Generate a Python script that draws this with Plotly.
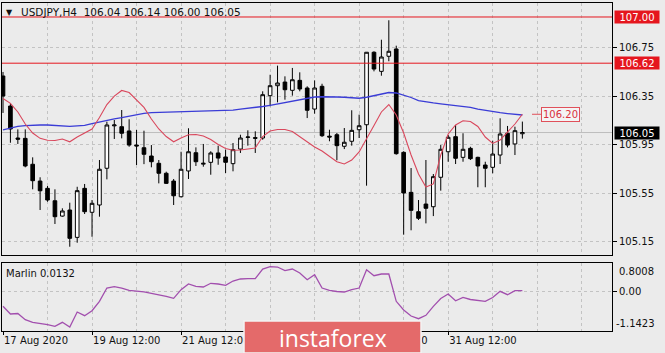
import plotly.graph_objects as go

# ---------------- data ----------------
symbol = "USDJPY,H4"
bars = list(range(71))  # H4 bar index, bar 0 = 17 Aug 2020 12:00

open_ = [106.515, 106.268, 106.005, 106.002, 105.789, 105.651, 105.591, 105.489, 105.363, 105.413,
         105.188, 105.591, 105.394, 105.454, 105.756, 106.105, 106.098, 106.063, 105.947, 105.925,
         105.857, 105.797, 105.715, 105.651, 105.522, 105.734, 105.884, 105.790, 105.805, 105.882,
         105.849, 105.794, 105.914, 106.010, 106.008, 106.005, 106.353, 106.435, 106.465, 106.397,
         106.479, 106.416, 106.243, 106.430, 106.020, 106.032, 105.937, 105.978, 106.073, 106.114,
         106.710, 106.553, 106.677, 106.737, 105.887, 105.558, 105.399, 105.462, 105.440, 105.682,
         105.892, 106.016, 105.846, 105.920, 105.846, 105.783, 105.764, 105.865, 106.044, 105.956,
         106.04]
high = [106.548, 106.290, 106.076, 106.076, 105.846, 105.682, 105.610, 105.583, 105.427, 105.473,
        105.604, 105.627, 105.495, 105.824, 106.139, 106.153, 106.235, 106.159, 106.071, 106.065,
        105.947, 105.824, 105.728, 105.668, 105.892, 106.085, 105.928, 105.956, 105.896, 105.942,
        105.909, 105.964, 106.032, 106.068, 106.060, 106.389, 106.525, 106.600, 106.512, 106.581,
        106.545, 106.430, 106.479, 106.451, 106.073, 106.046, 106.087, 106.233, 106.197, 106.712,
        106.718, 106.813, 106.973, 106.764, 105.896, 105.758, 105.495, 105.824, 105.709, 105.947,
        106.030, 106.112, 106.044, 105.933, 105.851, 105.810, 105.983, 106.167, 106.104, 106.098,
        106.14]
low = [106.211, 105.966, 105.956, 105.764, 105.583, 105.413, 105.481, 105.298, 105.358, 105.111,
       105.144, 105.380, 105.193, 105.358, 105.665, 105.997, 106.002, 105.933, 105.783, 105.790,
       105.764, 105.632, 105.627, 105.454, 105.517, 105.668, 105.775, 105.769, 105.703, 105.785,
       105.717, 105.731, 105.882, 105.942, 105.882, 105.991, 106.266, 106.298, 106.320, 106.353,
       106.389, 106.169, 106.205, 106.013, 105.978, 105.822, 105.914, 105.942, 106.005, 105.613,
       106.553, 106.517, 106.636, 105.868, 105.210, 105.246, 105.331, 105.303, 105.363, 105.572,
       105.810, 105.791, 105.810, 105.824, 105.600, 105.600, 105.715, 105.791, 105.928, 105.865,
       106.00]
close = [106.350, 106.079, 105.995, 105.775, 105.654, 105.571, 105.495, 105.358, 105.405, 105.180,
         105.572, 105.399, 105.468, 105.748, 106.112, 106.112, 106.044, 105.947, 105.940, 105.871,
         105.810, 105.715, 105.632, 105.530, 105.748, 105.892, 105.810, 105.797, 105.882, 105.840,
         105.805, 105.909, 106.005, 106.013, 106.003, 106.361, 106.435, 106.457, 106.402, 106.484,
         106.408, 106.233, 106.416, 106.024, 106.013, 105.942, 105.970, 106.068, 106.106, 106.710,
         106.572, 106.671, 106.718, 105.876, 105.553, 105.410, 105.345, 105.427, 105.687, 105.912,
         106.011, 105.838, 105.912, 105.835, 105.775, 105.756, 105.873, 106.038, 105.947, 106.065,
         106.05]

ma_fast = [106.330, 106.290, 106.219, 106.120, 106.046, 106.002, 105.986, 105.984, 105.997, 105.974,
           106.013, 106.046, 106.079, 106.173, 106.280, 106.350, 106.396, 106.379, 106.317, 106.256,
           106.161, 106.079, 106.017, 105.974, 106.005, 106.032, 106.034, 106.021, 105.993, 105.951,
           105.919, 105.904, 105.906, 105.914, 105.923, 106.017, 106.062, 106.075, 106.075, 106.058,
           106.017, 105.976, 105.931, 105.898, 105.857, 105.810, 105.791, 105.824, 105.890, 106.005,
           106.108, 106.219, 106.280, 106.194, 106.046, 105.865, 105.709, 105.602, 105.627, 105.865,
           106.038, 106.112, 106.147, 106.141, 106.100, 106.013, 105.960, 105.988, 106.054, 106.120,
           106.20]
ma_slow = [106.071, 106.087, 106.100, 106.106, 106.112, 106.112, 106.112, 106.108, 106.100, 106.100,
           106.104, 106.108, 106.124, 106.139, 106.153, 106.163, 106.173, 106.186, 106.198, 106.208,
           106.213, 106.215, 106.216, 106.219, 106.221, 106.224, 106.226, 106.227, 106.229, 106.230,
           106.232, 106.235, 106.243, 106.248, 106.253, 106.264, 106.274, 106.286, 106.299, 106.309,
           106.317, 106.334, 106.342, 106.344, 106.345, 106.342, 106.340, 106.339, 106.332, 106.340,
           106.352, 106.367, 106.379, 106.375, 106.359, 106.338, 106.313, 106.301, 106.293, 106.285,
           106.278, 106.272, 106.266, 106.256, 106.243, 106.231, 106.223, 106.213, 106.206, 106.202,
           106.194]
marlin = [-0.437, -0.657, -0.642, -0.820, -0.894, -0.923, -0.957, -1.008, -0.894, -1.028,
          -0.600, -0.705, -0.562, -0.294, 0.086, 0.123, 0.086, 0.021, 0.009, -0.022,
          -0.065, -0.099, -0.151, -0.208, 0.038, 0.201, 0.135, 0.115, 0.221, 0.201,
          0.163, 0.286, 0.344, 0.352, 0.352, 0.629, 0.695, 0.686, 0.581, 0.629,
          0.515, 0.324, 0.467, 0.086, 0.021, -0.014, -0.028, 0.038, 0.086, 0.609,
          0.438, 0.486, 0.486, -0.294, -0.542, -0.714, -0.791, -0.694, -0.437, -0.214,
          -0.085, -0.277, -0.180, -0.242, -0.271, -0.294, -0.185, -0.008, -0.105, 0.009,
          0.0132]

levels = [107.00, 106.62]
price_ticks = [106.75, 106.35, 105.95, 105.55, 105.15]
marlin_max, marlin_min = 0.8008, -1.1423
time_tick_bars = [0, 12, 24, 36, 48, 60]
time_tick_text = ["17 Aug 2020", "19 Aug 12:00", "21 Aug 12:00",
                  "25 Aug 12:00", "27 Aug 12:00", "31 Aug 12:00"]

# ---------------- styling ----------------
W, H = 665, 353
BG = "#EBEBEB"
GRID = "#C3C3C3"
FONT = "DejaVu Sans"
RED = "#E5161E"


def fx(px):
    return px / W


def fy(px):
    return 1 - px / H


x_dom = [fx(2), fx(612)]
x_range = [-0.135, 82.08]

fig = go.Figure()

fig.add_trace(go.Candlestick(
    x=bars, open=open_, high=high, low=low, close=close,
    increasing=dict(line=dict(color="black", width=1), fillcolor="white"),
    decreasing=dict(line=dict(color="black", width=1), fillcolor="black"),
    whiskerwidth=0, showlegend=False, xaxis="x", yaxis="y",
))
fig.add_trace(go.Scatter(x=bars, y=ma_slow, mode="lines",
                         line=dict(color="#3A3CD6", width=1.3),
                         showlegend=False, xaxis="x", yaxis="y"))
fig.add_trace(go.Scatter(x=bars, y=ma_fast, mode="lines",
                         line=dict(color="#D9475C", width=1.1),
                         showlegend=False, xaxis="x", yaxis="y"))
fig.add_trace(go.Scatter(x=bars, y=marlin, mode="lines",
                         line=dict(color="#A24FAE", width=1.3),
                         showlegend=False, xaxis="x2", yaxis="y2"))

shapes = []
for lv in levels:
    shapes.append(dict(type="line", xref="x domain", yref="y", x0=0, x1=1, y0=lv, y1=lv,
                       line=dict(color=RED, width=1), layer="above"))
# current price line
shapes.append(dict(type="line", xref="x domain", yref="y", x0=0, x1=1,
                   y0=close[-1], y1=close[-1], line=dict(color="#BDBDBD", width=1), layer="below"))
# connector of the 106.20 label
last = bars[-1]
shapes.append(dict(type="line", xref="x", yref="y", x0=last + 1.3, x1=last + 2.5,
                   y0=ma_fast[-1], y1=ma_fast[-1], line=dict(color="#E0505A", width=1)))
# instaforex logo box
shapes.append(dict(type="rect", xref="paper", yref="paper", x0=fx(244), x1=fx(421),
                   y0=0, y1=fy(321), fillcolor="#E46A6A",
                   line=dict(color="#F4F4F4", width=1.5), layer="above"))

ann = []
ann.append(dict(text="▼", xref="paper", yref="paper", x=fx(4), y=fy(12), xanchor="left",
                yanchor="middle", showarrow=False, font=dict(family=FONT, size=8, color="#111")))
title = f"{symbol}  {open_[-1]:.2f} {high[-1]:.2f} {low[-1]:.2f} {close[-1]:.2f}"
ann.append(dict(text=title, xref="paper", yref="paper", x=fx(19), y=fy(12), xanchor="left",
                yanchor="middle", showarrow=False, font=dict(family=FONT, size=10.5, color="#111")))
for lv in levels:
    ann.append(dict(text=f"{lv:.2f}", xref="paper", yref="y", x=fx(614), y=lv, xanchor="left",
                    yanchor="middle", showarrow=False, bgcolor=RED, width=42, height=10,
                    borderpad=1, font=dict(family=FONT, size=10, color="white")))
ann.append(dict(text=f"{close[-1]:.2f}", xref="paper", yref="y", x=fx(614), y=close[-1],
                xanchor="left", yanchor="middle", showarrow=False, bgcolor="black", width=42,
                height=10, borderpad=1, font=dict(family=FONT, size=10, color="white")))
ann.append(dict(text=f"{ma_fast[-1]:.2f}", xref="x", yref="y", x=last + 2.5, y=ma_fast[-1],
                xanchor="left", yanchor="middle", showarrow=False, bgcolor="#F4F4F4",
                bordercolor="#E0505A", borderwidth=1, borderpad=1,
                font=dict(family=FONT, size=10, color="#D9303C")))
ann.append(dict(text=f"Marlin {marlin[-1]:.4f}", xref="paper", yref="paper", x=fx(4), y=fy(273),
                xanchor="left", yanchor="middle", showarrow=False,
                font=dict(family=FONT, size=10, color="#111")))
ann.append(dict(text=f"{marlin_max:.4f}", xref="paper", yref="y2", x=fx(617), y=marlin_max,
                xanchor="left", yanchor="top", yshift=-1, showarrow=False,
                font=dict(family=FONT, size=10, color="#111")))
ann.append(dict(text=f"{marlin_min:.4f}", xref="paper", yref="y2", x=fx(614), y=marlin_min,
                xanchor="left", yanchor="bottom", showarrow=False,
                font=dict(family=FONT, size=10, color="#111")))
ann.append(dict(text="instaforex", xref="paper", yref="paper", x=fx(332.5), y=fy(338),
                xanchor="center", yanchor="middle", showarrow=False,
                font=dict(family="Open Sans", size=23, color="white")))

axis_common = dict(showline=True, linecolor="black", linewidth=1, mirror=True, zeroline=False,
                   gridcolor=GRID, griddash="dot", gridwidth=1, tickfont=dict(family=FONT, size=10, color="#111"))

fig.update_layout(
    width=W, height=H, margin=dict(l=0, r=0, t=0, b=0),
    paper_bgcolor=BG, plot_bgcolor=BG, showlegend=False,
    shapes=shapes, annotations=ann,
    xaxis=dict(domain=x_dom, range=x_range, anchor="y", tickmode="linear", tick0=0, dtick=6,
               showticklabels=False, ticks="", showgrid=True,
               rangeslider=dict(visible=False), **axis_common),
    yaxis=dict(domain=[fy(255), fy(3)], range=[105.043, 107.115], anchor="x", side="right",
               tickvals=price_ticks, ticktext=[f"{v:.2f}" for v in price_ticks],
               ticks="outside", ticklen=4, tickcolor="black", showgrid=True, **axis_common),
    xaxis2=dict(domain=x_dom, range=x_range, anchor="y2", tickvals=time_tick_bars,
                ticktext=time_tick_text, ticks="outside", ticklen=3, tickcolor="black",
                ticklabelposition="outside right", showgrid=True,
                minor=dict(tickmode="linear", tick0=0, dtick=6, showgrid=True, gridcolor=GRID,
                           griddash="dot", ticks=""),
                **axis_common),
    yaxis2=dict(domain=[fy(331), fy(263)], range=[marlin_min, marlin_max], anchor="x2",
                side="right", tickvals=[0.0], ticktext=["0.00"], ticks="outside", ticklen=4,
                tickcolor="black", showgrid=True, **axis_common),
)

fig.write_html("out.html")
